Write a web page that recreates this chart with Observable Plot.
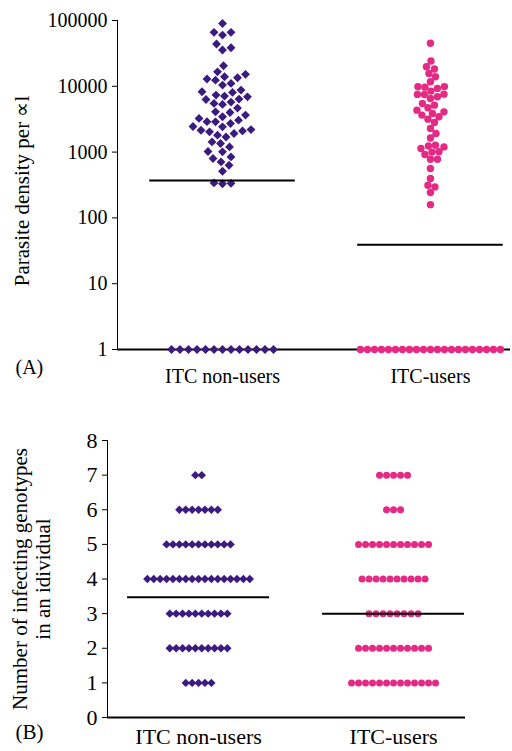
<!DOCTYPE html>
<html>
<head>
<meta charset="utf-8">
<script src="https://cdn.jsdelivr.net/npm/d3@7"></script>
<script src="https://cdn.jsdelivr.net/npm/@observablehq/plot@0.6"></script>
<style>
  html, body { margin: 0; padding: 0; background: #fff; }
  svg { display: block; }
  svg, svg text, svg tspan { font-family: "Liberation Serif", "Times New Roman", Times, serif !important; }
</style>
</head>
<body>
<script>
// ---------- data ----------
const groups = ["ITC non-users", "ITC-users"];

// Panel A: parasite density per µl (log scale)
const densityNonUsers = [
  90000, 66000, 66000, 60000, 44000, 38500, 35600,
  20500, 16600, 15200, 13950, 12400, 12900, 13500, 11070, 10430,
  8750, 8250, 8070, 7350, 6920, 7100, 6390, 6300, 5750, 5500, 5310,
  4660, 4090, 4000, 3650, 3440, 3250, 3060, 2880, 2720, 2900, 2420, 2450,
  2150, 2030, 2100, 2200, 1810, 1700, 1920, 1430, 1350, 1200, 1010, 1020,
  845, 800, 710, 632, 512, 330, 340, 335,
  1, 1, 1, 1, 1, 1, 1, 1, 1, 1, 1, 1, 1
];
const densityUsers = [
  45000, 24200, 19800, 18300, 15700, 13950, 11700, 9820, 9700, 9900, 9290,
  8450, 7530, 7500, 6920, 7600, 6540, 5500, 5170, 4710, 4340, 4090, 3870,
  3650, 3440, 3170, 2820, 2290, 1920, 1640, 1200, 1240, 1270, 1135, 1010,
  920, 1000, 780, 780, 563, 396, 313, 295, 243, 159,
  1, 1, 1, 1, 1, 1, 1, 1, 1, 1, 1, 1, 1, 1, 1, 1, 1, 1, 1, 1, 1
];
const meanDensity = [370, 39];
const densityTicks = [1, 10, 100, 1000, 10000, 100000];

// Panel B: number of infecting genotypes
const genotypeLevels = [1, 2, 3, 4, 5, 6, 7];
const genotypeCountsNonUsers = [5, 10, 10, 17, 11, 7, 2];
const genotypeCountsUsers = [13, 11, 8, 10, 11, 3, 5];
const meanGenotypes = [3.47, 3.0];
const genotypeTicks = [0, 1, 2, 3, 4, 5, 6, 7, 8];

// ---------- styling ----------
const purple = "#3b1b80";
const pink = "#e52a86";
const font = "Liberation Serif, Times New Roman, Times, serif";

// ---------- layout helpers ----------
// beeswarm: offsets in pixels so that dots of given diameter don't overlap
function swarmOffsets(ys, diameter) {
  const order = d3.range(ys.length).sort((a, b) => ys[a] - ys[b]);
  const placed = [];
  const off = new Array(ys.length);
  for (const i of order) {
    const y = ys[i];
    for (let k = 0; k < 1000; k++) {
      const cands = k === 0 ? [0] : [k * 0.5, -k * 0.5];
      let found = null;
      for (const c of cands) {
        if (placed.every(p => (p.x - c) ** 2 + (p.y - y) ** 2 >= diameter * diameter)) { found = c; break; }
      }
      if (found !== null) { off[i] = found; placed.push({x: found, y}); break; }
    }
  }
  return off;
}

// ---------- Panel A ----------
const A = {width: 512, height: 395, mt: 20, mb: 46, ml: 117, mr: 2, xDomain: [-0.505, 1.385]};
const aPxPerX = (A.width - A.ml - A.mr) / (A.xDomain[1] - A.xDomain[0]);
const aPxPerDecade = (A.height - A.mt - A.mb) / Math.log10(densityTicks[densityTicks.length - 1]);

function swarmTable(values, group, diameter) {
  const off = swarmOffsets(values.map(v => Math.log10(v) * aPxPerDecade), diameter);
  return values.map((v, i) => ({v, x: group + off[i] / aPxPerX}));
}
const dotsANon = swarmTable(densityNonUsers, 0, 8.5);
const dotsAUse = swarmTable(densityUsers, 1, 7);
const meansA = meanDensity.map((v, i) => ({v, i}));

const plotA = Plot.plot({
  width: A.width, height: A.height,
  marginTop: A.mt, marginBottom: A.mb, marginLeft: A.ml, marginRight: A.mr,
  style: {fontFamily: font, fontSize: "20px", color: "#000", background: "#fff", overflow: "visible"},
  x: {type: "linear", domain: A.xDomain, ticks: [0, 1], tickFormat: i => groups[i], tickSize: 0, tickPadding: 19, label: null},
  y: {type: "log", domain: [1, 100000], ticks: densityTicks, tickFormat: d3.format("d"), tickSize: 5, tickPadding: 5, label: null, line: true},
  marks: [
    Plot.ruleY([1], {stroke: "#000", strokeWidth: 2}),
    Plot.dot(dotsANon, {x: "x", y: "v", symbol: "diamond2", fill: purple, r: 4}),
    Plot.dot(dotsAUse, {x: "x", y: "v", symbol: "circle", fill: pink, r: 3.7}),
    Plot.ruleY(meansA, {y: "v", x1: d => d.i - 0.35, x2: d => d.i + 0.35, stroke: "#000", strokeWidth: 2}),
    Plot.text(["Parasite density per ∝l"], {text: d => d, frameAnchor: "left", textAnchor: "middle", rotate: -90, dx: -95, dy: 6, fontSize: 21}),
    Plot.text(["(A)"], {text: d => d, frameAnchor: "bottom-left", textAnchor: "start", dx: -102, dy: 24, fontSize: 20})
  ]
});

// ---------- Panel B ----------
const B = {width: 512, height: 356, mt: 45, mb: 34, ml: 107, mr: 47, xDomain: [-0.467, 1.369]};
const bPxPerX = (B.width - B.ml - B.mr) / (B.xDomain[1] - B.xDomain[0]);

function rowTable(counts, group, spacing) {
  const rows = [];
  genotypeLevels.forEach((lvl, j) => {
    const n = counts[j];
    for (let k = 0; k < n; k++) rows.push({v: lvl, x: group + (k - (n - 1) / 2) * spacing / bPxPerX});
  });
  return rows;
}
const dotsBNon = rowTable(genotypeCountsNonUsers, 0, 6.4);
const dotsBUse = rowTable(genotypeCountsUsers, 1, 7);
const meansB = meanGenotypes.map((v, i) => ({v, i}));

const plotB = Plot.plot({
  width: B.width, height: B.height,
  marginTop: B.mt, marginBottom: B.mb, marginLeft: B.ml, marginRight: B.mr,
  style: {fontFamily: font, fontSize: "22px", color: "#000", background: "#fff", overflow: "visible"},
  x: {type: "linear", domain: B.xDomain, ticks: [0, 1], tickFormat: i => groups[i], tickSize: 0, tickPadding: 11, label: null},
  y: {domain: [0, 8], ticks: genotypeTicks, tickFormat: d3.format("d"), tickSize: 5, tickPadding: 5, label: null, line: true},
  marks: [
    Plot.ruleY([0], {stroke: "#000", strokeWidth: 2}),
    Plot.dot(dotsBNon, {x: "x", y: "v", symbol: "diamond2", fill: purple, r: 3.8}),
    Plot.dot(dotsBUse, {x: "x", y: "v", symbol: "circle", fill: pink, r: 3.5}),
    Plot.ruleY(meansB, {y: "v", x1: d => d.i - 0.364, x2: d => d.i + 0.364, stroke: "#000", strokeWidth: 2}),
    Plot.text(["Number of infecting genotypes\nin an idividual"], {text: d => d, frameAnchor: "left", textAnchor: "middle", rotate: -90, dx: -76, lineHeight: 1.1, fontSize: 21}),
    Plot.text(["(B)"], {text: d => d, frameAnchor: "bottom-left", textAnchor: "start", dx: -92, dy: 21, fontSize: 21})
  ]
});

document.body.appendChild(plotA);
document.body.appendChild(plotB);
</script>
</body>
</html>
